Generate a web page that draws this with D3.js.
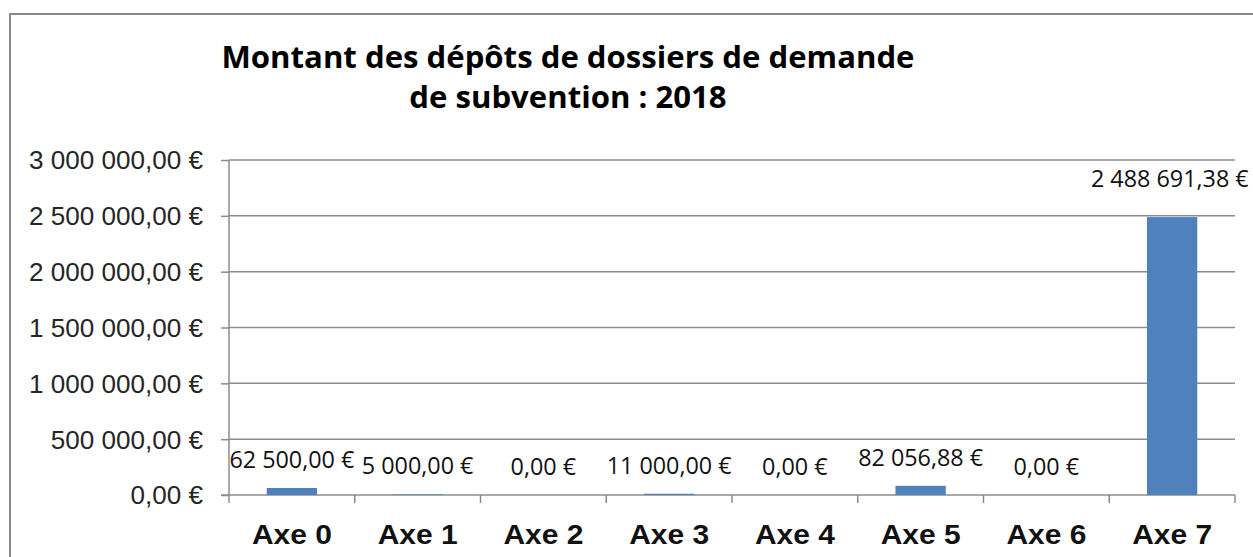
<!DOCTYPE html>
<html><head><meta charset="utf-8">
<script src="https://cdn.jsdelivr.net/npm/d3@7"></script>
<style>html,body{margin:0;padding:0;background:#fff;}svg{display:block;}</style>
</head><body>
<svg id="c" width="1253" height="557"></svg>
<script>
const categories = ["Axe 0","Axe 1","Axe 2","Axe 3","Axe 4","Axe 5","Axe 6","Axe 7"];
const values = [62500.00, 5000.00, 0.00, 11000.00, 0.00, 82056.88, 0.00, 2488691.38];
const yTicks = [0, 500000, 1000000, 1500000, 2000000, 2500000, 3000000];
const titleLines = ["Montant des dépôts de dossiers de demande", "de subvention : 2018"];

const svg = d3.select("#c");
const W = 1253, H = 557;
const m = {left: 229, right: 1235, top: 160, bottom: 495};
const fmt = v => {
  const parts = v.toFixed(2).split(".");
  const int = parts[0].replace(/\B(?=(\d{3})+(?!\d))/g, " ");
  return int + "," + parts[1] + " €";
};

// outer border
svg.append("path").attr("d", `M10,${H} L10,14 L${W},14`).attr("fill","none").attr("stroke","#888").attr("stroke-width",2);

const x = d3.scaleBand().domain(categories).range([m.left, m.right]).paddingInner(0.6).paddingOuter(0.3);
const y = d3.scaleLinear().domain([0, 3000000]).range([m.bottom, m.top]);

function fit(sel, refText, targetWidth) {
  let sx = 1;
  sel.each(function(){ if (this.textContent === refText) sx = targetWidth / this.getComputedTextLength(); });
  sel.each(function(){
    const w = this.getComputedTextLength();
    d3.select(this).attr("textLength", w * sx).attr("lengthAdjust", "spacingAndGlyphs");
  });
}

// gridlines
svg.append("g").selectAll("line").data(yTicks.filter(t => t > 0)).join("line")
  .attr("x1", m.left).attr("x2", m.right).attr("y1", d => y(d)).attr("y2", d => y(d))
  .attr("stroke", "#8c8c8c").attr("stroke-width", 1.5);

// y axis
const yAxis = svg.append("g").attr("transform", `translate(${m.left},0)`)
  .call(d3.axisLeft(y).tickValues(yTicks).tickSize(8).tickPadding(18).tickFormat(fmt));
yAxis.select(".domain").attr("stroke", "#8c8c8c").attr("stroke-width", 1.5).attr("d", `M0,${m.top}V${m.bottom}`);
yAxis.selectAll(".tick line").attr("stroke", "#8c8c8c").attr("stroke-width", 1.5);
yAxis.selectAll(".tick text").attr("font-family", "'Liberation Sans', Arial, sans-serif")
  .attr("font-size", 25.5).attr("fill", "#262626").attr("dy", "0.35em");
fit(yAxis.selectAll(".tick text"), fmt(3000000), 174);

// x axis
const boundaries = d3.range(categories.length + 1);
const xAxisG = svg.append("g");
xAxisG.append("line").attr("x1", m.left - 8).attr("x2", m.right).attr("y1", m.bottom).attr("y2", m.bottom)
  .attr("stroke", "#8c8c8c").attr("stroke-width", 1.5);
xAxisG.selectAll("line.tk").data(boundaries).join("line").attr("class","tk")
  .attr("x1", i => m.left + i * (m.right - m.left) / categories.length)
  .attr("x2", i => m.left + i * (m.right - m.left) / categories.length)
  .attr("y1", m.bottom).attr("y2", m.bottom + 8)
  .attr("stroke", "#8c8c8c").attr("stroke-width", 1.5);
const catLabels = xAxisG.selectAll("text").data(categories).join("text")
  .attr("x", d => x(d) + x.bandwidth() / 2).attr("y", 544)
  .attr("text-anchor", "middle")
  .attr("font-family", "'Liberation Sans', Arial, sans-serif").attr("font-weight", "bold")
  .attr("font-size", 27).attr("fill", "#111").text(d => d);
fit(catLabels, "Axe 0", 80);

// bars
const data = categories.map((c, i) => ({c, v: values[i]}));
svg.append("g").selectAll("rect").data(data).join("rect")
  .attr("x", d => x(d.c)).attr("width", x.bandwidth())
  .attr("y", d => y(d.v)).attr("height", d => y(0) - y(d.v))
  .attr("fill", "#4F81BD");

// data labels
const maxV = d3.max(values);
const dl = svg.append("g").selectAll("text").data(data).join("text")
  .attr("x", d => x(d.c) + x.bandwidth() / 2)
  .attr("y", d => y(d.v) - 20 - 10 * d.v / maxV)
  .attr("text-anchor", "middle")
  .attr("font-family", "'Open Sans', 'Noto Sans', sans-serif")
  .attr("font-size", 24).attr("fill", "#111").text(d => fmt(d.v));
fit(dl, fmt(62500), 125);
// keep labels inside the canvas
dl.each(function(){
  const bb = this.getBBox();
  const over = bb.x + bb.width - (W - 4);
  if (over > 0) d3.select(this).attr("x", +d3.select(this).attr("x") - over);
});

// title
const tt = svg.append("g").selectAll("text").data(titleLines).join("text")
  .attr("x", 568).attr("y", (d, i) => 68 + i * 40)
  .attr("text-anchor", "middle")
  .attr("font-family", "'Open Sans', 'Noto Sans', sans-serif").attr("font-weight", "bold")
  .attr("font-size", 30.5).attr("fill", "#000").text(d => d);
fit(tt, titleLines[0], 693);
</script>
</body></html>
